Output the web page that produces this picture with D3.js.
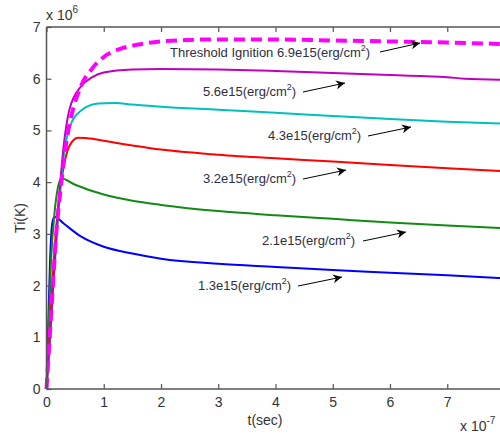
<!DOCTYPE html>
<html><head><meta charset="utf-8">
<script src="https://cdn.jsdelivr.net/npm/d3@7/dist/d3.min.js"></script>
<style>body{margin:0;background:#fff}svg{display:block}text{font-family:"Liberation Sans",Arial,sans-serif}</style>
</head><body><svg id="c" width="500" height="434"></svg>
<script>
const xTicks=[0,1,2,3,4,5,6,7];
const yTicks=[0,1,2,3,4,5,6,7];
const blueT=[0,0.03,0.06,0.1,0.14,0.3,0.6,1.0,1.5,2.0,3.0,4.0,5.0,6.0,7.0,8.0];
const blueV=[0,1.2,2.4,3.2,3.33,3.2,2.95,2.75,2.62,2.52,2.42,2.36,2.3,2.25,2.2,2.14];
const greenT=[0,0.04,0.08,0.14,0.2,0.26,0.5,1.0,1.5,2.0,3.0,4.0,5.0,6.0,7.0,8.0];
const greenV=[0,1.3,2.5,3.4,3.9,4.07,3.95,3.76,3.64,3.56,3.44,3.36,3.29,3.22,3.16,3.11];
const redT=[0,0.05,0.1,0.2,0.3,0.4,0.55,0.8,1.0,1.5,2.0,3.0,4.0,5.0,6.0,7.0,8.0];
const redV=[0,1.0,2.0,3.5,4.3,4.7,4.86,4.84,4.8,4.71,4.63,4.53,4.46,4.4,4.33,4.27,4.21];
const cyanT=[0,0.05,0.1,0.2,0.3,0.4,0.6,0.9,1.2,1.5,2.0,3.0,4.0,5.0,6.0,7.0,8.0];
const cyanV=[0,0.8,1.7,3.3,4.5,5.05,5.38,5.52,5.53,5.5,5.46,5.4,5.34,5.28,5.22,5.17,5.13];
const purpleT=[0,0.05,0.1,0.2,0.3,0.4,0.6,0.8,1.0,1.5,2.0,3.0,4.0,5.0,6.0,7.0,7.3,8.0];
const purpleV=[0,0.8,1.7,3.4,4.7,5.4,5.85,6.03,6.12,6.18,6.19,6.18,6.15,6.11,6.07,6.03,6.0,5.98];
const magT=[0,0.05,0.1,0.17,0.26,0.35,0.45,0.6,0.8,1.0,1.3,1.6,2.0,2.5,3.0,4.0,5.0,6.0,7.0,8.0];
const magV=[0,0.9,1.8,3.0,4.0,4.8,5.35,5.85,6.2,6.42,6.58,6.66,6.72,6.75,6.76,6.76,6.74,6.72,6.7,6.67];
const labels=["1.3e15","2.1e15","3.2e15","4.3e15","5.6e15","Threshold Ignition 6.9e15"];

const svg=d3.select("#c");
const x=d3.scaleLinear().domain([0,8]).range([46.5,504.5]);
const y=d3.scaleLinear().domain([0,7]).range([389,27]);
const axisCol="#555";

const series=[
 {t:blueT,v:blueV,c:"#0000ff",w:2},
 {t:greenT,v:greenV,c:"#138a13",w:2},
 {t:redT,v:redV,c:"#ff0000",w:2},
 {t:cyanT,v:cyanV,c:"#00bfbf",w:2},
 {t:purpleT,v:purpleV,c:"#bf00bf",w:2},
 {t:magT,v:magV,c:"#ff00ff",w:4,dash:"11,6"}
];
const line=d3.line().x(d=>x(d[0])).y(d=>y(d[1])).curve(d3.curveMonotoneX);
series.forEach(s=>{
  const pts=s.t.map((t,i)=>[t,s.v[i]]);
  svg.append("path").attr("d",line(pts)).attr("fill","none").attr("stroke",s.c)
    .attr("stroke-width",s.w).attr("stroke-dasharray",s.dash||null);
});

// axes
const gx=svg.append("g").attr("transform",`translate(0,${y(0)})`)
  .call(d3.axisBottom(x).tickValues(xTicks).tickSize(-5).tickPadding(8).tickFormat(d3.format("d")));
const gxt=svg.append("g").attr("transform",`translate(0,${y(7)})`)
  .call(d3.axisTop(x).tickValues(xTicks).tickSize(-5).tickFormat(""));
const gy=svg.append("g").attr("transform",`translate(${x(0)},0)`)
  .call(d3.axisLeft(y).tickValues(yTicks).tickSize(-5).tickPadding(6).tickFormat(d3.format("d")));
[gx,gxt,gy].forEach(g=>{
  g.select(".domain").attr("stroke",axisCol).attr("stroke-width",1.5);
  g.selectAll(".tick line").attr("stroke",axisCol).attr("stroke-width",1.2);
  g.selectAll(".tick text").attr("fill","#333").attr("font-size",14).attr("font-family","Liberation Sans, Arial, sans-serif");
});
gx.select(".domain").attr("d",`M${x(0)},0H${x(8)}`);
gxt.select(".domain").attr("d",`M${x(0)},0H${x(8)}`);
gy.select(".domain").attr("d",`M0,${y(0)}V${y(7)}`);

// axis titles
svg.append("text").attr("transform","translate(25,218) rotate(-90)").attr("text-anchor","middle")
  .attr("font-size",14).attr("fill","#333").text("Ti(K)");
svg.append("text").attr("x",265).attr("y",425).attr("text-anchor","middle")
  .attr("font-size",14).attr("fill","#333").text("t(sec)");
const ex1=svg.append("text").attr("x",46).attr("y",20).attr("font-size",14).attr("fill","#333");
ex1.append("tspan").text("x 10");
ex1.append("tspan").attr("dy",-7).attr("font-size",10).text("6");
const ex2=svg.append("text").attr("x",460).attr("y",431).attr("font-size",14).attr("fill","#333");
ex2.append("tspan").text("x 10");
ex2.append("tspan").attr("dy",-7).attr("font-size",10).text("-7");

// arrow marker
svg.append("defs").append("marker").attr("id","ah").attr("viewBox","0 0 10 10")
  .attr("refX",10).attr("refY",5).attr("markerWidth",12).attr("markerHeight",9)
  .attr("markerUnits","userSpaceOnUse").attr("orient","auto")
  .append("path").attr("d","M0,0L10,5L0,10L3,5Z").attr("fill","#000");

// annotations: [labelIndex, textX, textY(baseline), arrowStartX, arrowStartY, tipX, tipY]
const ann=[
 [0,198,290,298,286,342,277],
 [1,262,245,363,241,406,232],
 [2,203,183,303,179,346,170],
 [3,268,140,368,136,411,127],
 [4,203,96,303,92,345,83],
 [5,170,57,380,52,420,43]
];
ann.forEach(a=>{
  const t=svg.append("text").attr("x",a[1]).attr("y",a[2]).attr("font-size",13).attr("fill","#2e2e3e");
  t.append("tspan").text(labels[a[0]]+"(erg/cm");
  t.append("tspan").attr("dy",-6).attr("font-size",9).text("2");
  t.append("tspan").attr("dy",6).text(")");
  svg.append("line").attr("x1",a[3]).attr("y1",a[4]).attr("x2",a[5]).attr("y2",a[6])
    .attr("stroke","#000").attr("stroke-width",1).attr("marker-end","url(#ah)");
});
</script></body></html>
